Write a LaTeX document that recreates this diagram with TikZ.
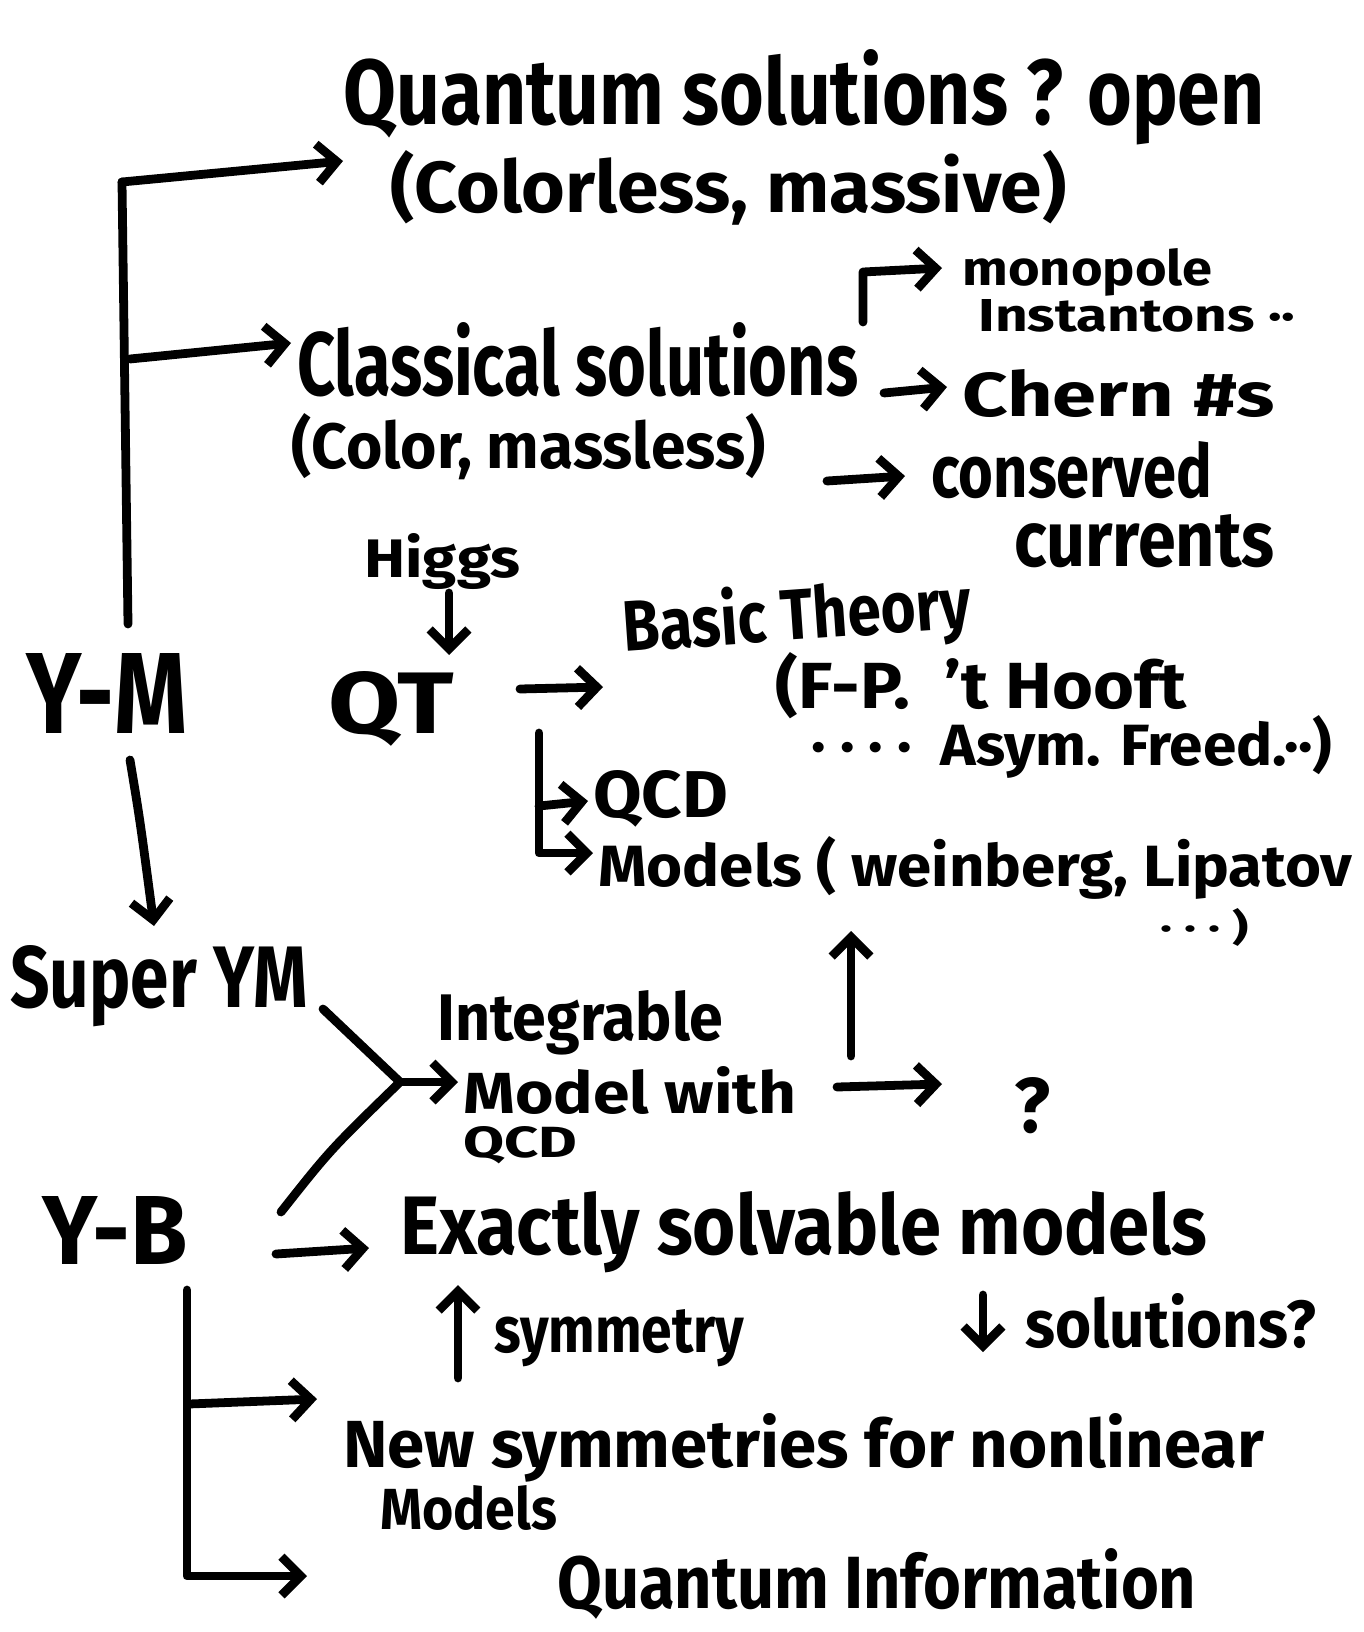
\documentclass[tikz,border=0pt]{standalone}
\usepackage{fontspec}
\setmainfont{Fira Sans}
\usetikzlibrary{arrows.meta}
\newlength\upx \setlength\upx{0.02cm}
\newcommand\hw[3]{\resizebox{#1\upx}{#2\upx}{\bfseries #3}}
\begin{document}
\begin{tikzpicture}[x=0.02cm,y=-0.02cm,
  txt/.style={inner sep=0pt,anchor=base west},
  ln/.style={line width=5pt,line cap=round,line join=round},
  arr/.style={ln,-{Straight Barb[length=11pt,width=22pt]}}]
\useasboundingbox[fill=white] (0,0) rectangle (1364,1632);
% texts
\node[txt] (qs)    at (343,125)  {\hw{921}{75}{Quantum solutions ? open}};
\node[txt] (cl)    at (390,213)  {\hw{676}{62}{(Colorless, massive)}};
\node[txt] (cs)    at (297,395)  {\hw{561}{73}{Classical solutions}};
\node[txt] (cm)    at (291,468)  {\hw{474}{55}{(Color, massless)}};
\node[txt] (mono)  at (962,285)  {\hw{250}{37}{monopole}};
\node[txt] (inst)  at (978,331)  {\hw{317}{32}{Instantons ··}};
\node[txt] (chern) at (962,416)  {\hw{312}{47}{Chern \#s}};
\node[txt] (cons)  at (931,497)  {\hw{281}{56}{conserved}};
\node[txt] (curr)  at (1014,566) {\hw{260}{52}{currents}};
\node[txt] (higgs) at (364,577)  {\hw{156}{44}{Higgs}};
\node[txt] (ym)    at (26,733)   {\hw{161}{80}{Y-M}};
\node[txt] (qt)    at (328,733)  {\hw{125}{62}{QT}};
\node[txt,rotate=4] (basic) at (624,652) {\hw{349}{58}{Basic Theory}};
\node[txt] (fp)    at (775,708)  {\hw{411}{56}{(F-P.\ \ 't Hooft}};
\node[txt] (asym)  at (811,765)  {\hw{521}{50}{· · · ·\ \ Asym. Freed.··)}};
\node[txt] (qcda)  at (593,817)  {\hw{135}{47}{QCD}};
\node[txt] (mods)  at (598,886)  {\hw{754}{50}{Models ( weinberg, Lipatov}};
\node[txt] (dots)  at (1160,940) {\hw{88}{32}{· · · )}};
\node[txt] (sym)   at (10,1007)  {\hw{297}{62}{Super YM}};
\node[txt] (integ) at (437,1040) {\hw{286}{50}{Integrable}};
\node[txt] (mw)    at (463,1113) {\hw{333}{47}{Model with}};
\node[txt] (qcdb)  at (463,1157) {\hw{114}{31}{QCD}};
\node[txt] (qm)    at (1014,1132){\hw{36}{55}{?}};
\node[txt] (yb)    at (42,1264)  {\hw{145}{68}{Y-B}};
\node[txt] (esm)   at (400,1254) {\hw{807}{63}{Exactly solvable models}};
\node[txt] (symm)  at (494,1352) {\hw{250}{43}{symmetry}};
\node[txt] (sol)   at (1025,1347){\hw{291}{54}{solutions?}};
\node[txt] (nsym)  at (343,1467) {\hw{921}{54}{New symmetries for nonlinear}};
\node[txt] (modb)  at (380,1529) {\hw{177}{44}{Models}};
\node[txt] (qi)    at (557,1608) {\hw{639}{60}{Quantum Information}};
% coordinates
\coordinate (ymtop) at (128,624);
\coordinate (ymcorner) at (122,182);
\coordinate (qstip) at (343,161);
\coordinate (csfrom) at (130,359);
\coordinate (cstip) at (291,343);
\coordinate (monofrom) at (863,322);
\coordinate (monobend) at (863,272);
\coordinate (monotip) at (942,268);
\coordinate (chfrom) at (884,393);
\coordinate (chtip) at (947,387);
\coordinate (cofrom) at (827,481);
\coordinate (cotip) at (905,476);
\coordinate (hgfrom) at (449,593);
\coordinate (hgtip) at (449,655);
\coordinate (qtfrom) at (520,689);
\coordinate (qttip) at (603,687);
\coordinate (brtop) at (539,733);
\coordinate (brbot) at (539,853);
\coordinate (brmid) at (539,806);
\coordinate (qcdtip) at (588,801);
\coordinate (modtip) at (593,853);
\coordinate (ymbot) at (130,760);
\coordinate (symtip) at (154,926);
\coordinate (symfrom) at (323,1009);
\coordinate (join) at (400,1082);
\coordinate (integtip) at (458,1082);
\coordinate (ybup) at (281,1212);
\coordinate (mwfrom) at (837,1087);
\coordinate (qmtip) at (942,1084);
\coordinate (upfrom) at (851,1056);
\coordinate (uptip) at (851,931);
\coordinate (ybfrom) at (276,1254);
\coordinate (esmtip) at (369,1248);
\coordinate (smfrom) at (458,1378);
\coordinate (smtip) at (458,1285);
\coordinate (soltop) at (983,1295);
\coordinate (soltip) at (983,1352);
\coordinate (ybtop) at (187,1290);
\coordinate (ybbot) at (187,1576);
\coordinate (nsfrom) at (189,1404);
\coordinate (nstip) at (317,1399);
\coordinate (qitip) at (307,1576);
% connectors
\draw[ln] (ymtop) -- (ymcorner);
\draw[arr] (ymcorner) -- (qstip);
\draw[arr] (csfrom) -- (cstip);
\draw[arr] (monofrom) -- (monobend) -- (monotip);
\draw[arr] (chfrom) -- (chtip);
\draw[arr] (cofrom) -- (cotip);
\draw[arr] (hgfrom) -- (hgtip);
\draw[arr] (qtfrom) -- (qttip);
\draw[arr] (brtop) -- (brbot) -- (modtip);
\draw[arr] (brmid) -- (qcdtip);
\draw[arr] (ymbot) .. controls (140,820) .. (symtip);
\draw[ln] (symfrom) -- (join);
\draw[arr] (join) -- (integtip);
\draw[ln] (ybup) .. controls (330,1150) .. (join);
\draw[arr] (mwfrom) -- (qmtip);
\draw[arr] (upfrom) -- (uptip);
\draw[arr] (ybfrom) -- (esmtip);
\draw[arr] (smfrom) -- (smtip);
\draw[arr] (soltop) -- (soltip);
\draw[arr] (ybtop) -- (ybbot) -- (qitip);
\draw[arr] (nsfrom) -- (nstip);
\end{tikzpicture}
\end{document}
